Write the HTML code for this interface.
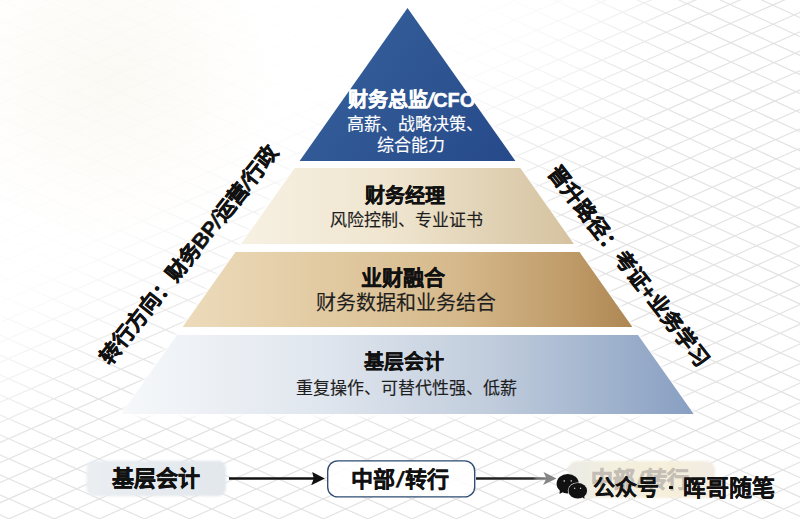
<!DOCTYPE html>
<html lang="zh-CN">
<head>
<meta charset="utf-8">
<style>
html,body{margin:0;padding:0;}
body{width:800px;height:519px;overflow:hidden;position:relative;background:#fff;font-family:"Liberation Sans",sans-serif;}
svg.bg{position:absolute;left:0;top:0;}
.t{position:absolute;white-space:nowrap;text-align:center;line-height:1;}
.sl{display:inline-block;transform:skewX(-13deg);}
</style>
</head>
<body>
<svg class="bg" width="800" height="519" viewBox="0 0 800 519">
<defs>
<linearGradient id="g1" x1="320" y1="20" x2="515" y2="161" gradientUnits="userSpaceOnUse">
<stop offset="0" stop-color="#35609c"/>
<stop offset="0.5" stop-color="#2e5592"/>
<stop offset="1" stop-color="#26498a"/>
</linearGradient>
<linearGradient id="g2" x1="241" y1="0" x2="574" y2="0" gradientUnits="userSpaceOnUse">
<stop offset="0" stop-color="#f7f1e3"/>
<stop offset="0.45" stop-color="#efe5cf"/>
<stop offset="1" stop-color="#d5c29f"/>
</linearGradient>
<linearGradient id="g3" x1="182" y1="0" x2="633" y2="0" gradientUnits="userSpaceOnUse">
<stop offset="0" stop-color="#ecdbbb"/>
<stop offset="0.3" stop-color="#e2cba3"/>
<stop offset="0.6" stop-color="#d6ba8d"/>
<stop offset="0.85" stop-color="#c09c6a"/>
<stop offset="1" stop-color="#ad8753"/>
</linearGradient>
<linearGradient id="g4" x1="121" y1="0" x2="694" y2="0" gradientUnits="userSpaceOnUse">
<stop offset="0" stop-color="#f6f8fa"/>
<stop offset="0.35" stop-color="#e0e6ee"/>
<stop offset="0.65" stop-color="#c0ccdc"/>
<stop offset="1" stop-color="#889fc2"/>
</linearGradient>
<linearGradient id="mg" x1="138" y1="208" x2="215" y2="323" gradientUnits="userSpaceOnUse">
<stop offset="0" stop-color="#141414"/>
<stop offset="0.5" stop-color="#777"/>
<stop offset="1" stop-color="#fff"/>
</linearGradient>
<radialGradient id="rg" cx="430" cy="0" r="270" gradientUnits="userSpaceOnUse">
<stop offset="0" stop-color="#000" stop-opacity="0.9"/>
<stop offset="0.6" stop-color="#000" stop-opacity="0.45"/>
<stop offset="1" stop-color="#000" stop-opacity="0"/>
</radialGradient>
<mask id="gm" maskUnits="userSpaceOnUse" x="0" y="0" width="800" height="519"><rect width="800" height="519" fill="url(#mg)"/><rect width="800" height="519" fill="url(#rg)"/></mask>
<radialGradient id="warm" cx="110" cy="80" r="160" gradientUnits="userSpaceOnUse">
<stop offset="0" stop-color="#f8f3e6" stop-opacity="0.45"/>
<stop offset="1" stop-color="#f8f2e2" stop-opacity="0"/>
</radialGradient>
<linearGradient id="b1" x1="0" y1="0" x2="1" y2="0">
<stop offset="0" stop-color="#eaeef2"/>
<stop offset="1" stop-color="#e2e7ec"/>
</linearGradient>
<linearGradient id="b3" x1="0" y1="0" x2="1" y2="0">
<stop offset="0" stop-color="#ecebe5"/>
<stop offset="0.3" stop-color="#f3f0df"/>
<stop offset="0.7" stop-color="#f5efda"/>
<stop offset="1" stop-color="#f2ebe4"/>
</linearGradient>
<linearGradient id="ar2" x1="476" y1="0" x2="547" y2="0" gradientUnits="userSpaceOnUse">
<stop offset="0" stop-color="#1c1c1c"/>
<stop offset="0.8" stop-color="#2a2a2a"/>
<stop offset="0.86" stop-color="#6a6a6a"/>
<stop offset="1" stop-color="#808080"/>
</linearGradient>
<filter id="halo" x="-5%" y="-5%" width="110%" height="110%"><feGaussianBlur stdDeviation="2.5"/></filter>
<filter id="soft" x="-10%" y="-30%" width="120%" height="160%"><feGaussianBlur stdDeviation="0.8"/></filter>
</defs>
<rect width="800" height="519" fill="url(#warm)"/>
<path mask="url(#gm)" stroke="#e3e3e3" stroke-width="1.2" fill="none" d="M-38.2 -37.4L-15.8 -46.9M-38.1 -17.8L29.0 -46.1M-38.1 1.8L73.7 -45.3M-38.0 21.5L118.2 -44.5M-37.9 41.2L162.6 -43.8M-37.9 60.9L206.9 -43.0M-37.8 80.6L251.1 -42.2M-37.7 100.3L295.1 -41.5M-37.7 120.1L339.1 -40.7M-37.6 139.9L404.6 -49.3M-37.6 159.6L448.2 -48.5M-37.5 179.4L491.7 -47.7M-37.4 199.3L535.1 -47.0M-37.4 219.1L578.4 -46.2M-37.3 239.0L621.6 -45.4M-37.2 258.8L664.6 -44.7M-37.2 278.7L707.6 -43.9M-37.1 298.7L750.4 -43.2M-37.1 318.6L793.1 -42.4M-37.0 338.5L835.7 -41.7M-36.9 358.5L836.1 -22.6M-36.9 378.5L836.5 -3.5M-36.8 398.5L837.0 15.7M-36.7 418.5L837.4 34.8M-36.7 438.6L837.9 54.0M-36.6 458.6L838.3 73.1M-36.5 478.7L838.8 92.3M-36.5 498.8L839.2 111.5M-36.4 518.9L839.6 130.8M-36.4 539.0L840.1 150.0M-36.3 559.2L840.5 169.3M-13.5 569.2L841.0 188.6M31.9 569.2L841.4 207.9M77.2 569.1L841.9 227.2M122.3 569.0L842.3 246.5M167.4 568.9L842.8 265.8M212.3 568.9L843.2 285.2M257.0 568.8L843.7 304.6M301.7 568.7L844.1 324.0M346.2 568.7L844.6 343.4M390.7 568.6L845.0 362.8M435.0 568.5L845.5 382.3M479.1 568.5L845.9 401.7M523.2 568.4L846.4 421.2M567.1 568.3L846.8 440.7M610.9 568.3L847.3 460.3M654.6 568.2L847.7 479.8M698.2 568.1L848.2 499.3M741.6 568.1L848.6 518.9M785.0 568.0L849.1 538.5M828.2 567.9L849.5 558.1M-36.3 559.2L-13.5 569.2M-36.4 539.0L31.9 569.2M-36.4 518.9L77.2 569.1M-36.5 498.8L122.3 569.0M-36.5 478.7L167.4 568.9M-36.6 458.6L212.3 568.9M-36.7 438.6L257.0 568.8M-36.7 418.5L301.7 568.7M-36.8 398.5L346.2 568.7M-36.9 378.5L390.7 568.6M-36.9 358.5L435.0 568.5M-37.0 338.5L479.1 568.5M-37.1 318.6L523.2 568.4M-37.1 298.7L567.1 568.3M-37.2 278.7L610.9 568.3M-37.2 258.8L654.6 568.2M-37.3 239.0L698.2 568.1M-37.4 219.1L741.6 568.1M-37.4 199.3L785.0 568.0M-37.5 179.4L828.2 567.9M-37.6 159.6L849.5 558.1M-37.6 139.9L849.1 538.5M-37.7 120.1L848.6 518.9M-37.7 100.3L848.2 499.3M-37.8 80.6L847.7 479.8M-37.9 60.9L847.3 460.3M-37.9 41.2L846.8 440.7M-38.0 21.5L846.4 421.2M-38.1 1.8L845.9 401.7M-38.1 -17.8L845.5 382.3M-38.2 -37.4L845.0 362.8M-15.8 -46.9L844.6 343.4M29.0 -46.1L844.1 324.0M73.7 -45.3L843.7 304.6M118.2 -44.5L843.2 285.2M162.6 -43.8L842.8 265.8M206.9 -43.0L842.3 246.5M251.1 -42.2L841.9 227.2M295.1 -41.5L841.4 207.9M339.1 -40.7L841.0 188.6M382.9 -40.0L840.5 169.3M404.6 -49.3L840.1 150.0M448.2 -48.5L839.6 130.8M491.7 -47.7L839.2 111.5M535.1 -47.0L838.8 92.3M578.4 -46.2L838.3 73.1M621.6 -45.4L837.9 54.0M664.6 -44.7L837.4 34.8M707.6 -43.9L837.0 15.7M750.4 -43.2L836.5 -3.5M793.1 -42.4L836.1 -22.6"/>
<polygon points="407.5,4 698,418 117,418" fill="#fff" filter="url(#halo)"/>
<polygon points="407.5,8 515.4,161 299.6,161" fill="url(#g1)"/>
<polygon points="294.7,168 520.3,168 573.9,244 241.1,244" fill="url(#g2)"/>
<polygon points="235.5,252 579.5,252 632.4,327 182.6,327" fill="url(#g3)"/>
<polygon points="177,335 638,335 693.7,414 121.3,414" fill="url(#g4)"/>
<!-- bottom row -->
<rect x="86.5" y="460.7" width="139.5" height="35.5" rx="8" fill="url(#b1)" filter="url(#soft)"/>
<line x1="229" y1="478.5" x2="315" y2="478.5" stroke="#111" stroke-width="2.6"/>
<polygon points="324.8,478.5 312.2,472 313.8,478.5 311.2,485.2" fill="#111"/>
<rect x="327.7" y="460.9" width="147" height="36" rx="10" fill="#fff" fill-opacity="0.85" stroke="#2f4b73" stroke-width="1.35"/>
<line x1="476" y1="478.5" x2="547" y2="478.5" stroke="url(#ar2)" stroke-width="2.6"/>
<polygon points="556.5,478.5 543.5,471.9 546.5,478.5 543,485" fill="#858585"/>
<rect x="568" y="461" width="147" height="37" rx="9" fill="url(#b3)" filter="url(#soft)"/>
<!-- wechat icon -->
<g>
<ellipse cx="567.7" cy="483.7" rx="11.1" ry="9.7" fill="#111"/>
<path d="M560 489 L559.5 494 L565 491 Z" fill="#111"/>
<ellipse cx="577.75" cy="490.8" rx="10" ry="8.4" fill="#f4f1ea"/>
<ellipse cx="577.75" cy="490.8" rx="9.35" ry="7.8" fill="#111"/>
<path d="M581 496 L584.5 499 L584 494 Z" fill="#111"/>
<rect x="563.6" y="480" width="1.3" height="1.8" rx="0.6" fill="#ccc"/>
<rect x="570.6" y="480" width="1.3" height="1.8" rx="0.6" fill="#ccc"/>
<rect x="574" y="487.6" width="1.3" height="1.5" rx="0.6" fill="#ccc"/>
<rect x="579.9" y="487.6" width="1.3" height="1.5" rx="0.6" fill="#ccc"/>
</g>
</svg>

<div class="t" style="left:311.50px;top:90.00px;width:200px;font-size:20px;color:#fff;font-weight:700;-webkit-text-stroke:0.4px #fff;">财务总监<span class="sl">/</span>CFO</div>
<div class="t" style="left:314.60px;top:115.90px;width:200px;font-size:17px;color:#fff;-webkit-text-stroke:0.15px #fff;">高薪、战略决策、</div>
<div class="t" style="left:310.50px;top:137.00px;width:200px;font-size:17px;color:#fff;-webkit-text-stroke:0.15px #fff;">综合能力</div>
<div class="t" style="left:305.00px;top:186.40px;width:200px;font-size:20px;color:#111;font-weight:700;-webkit-text-stroke:0.35px #111;">财务经理</div>
<div class="t" style="left:306.50px;top:212.00px;width:200px;font-size:17px;color:#1e1e1e;-webkit-text-stroke:0.15px #1e1e1e;">风险控制、专业证书</div>
<div class="t" style="left:303.48px;top:266.60px;width:200px;font-size:21px;color:#111;font-weight:700;-webkit-text-stroke:0.35px #111;">业财融合</div>
<div class="t" style="left:305.73px;top:293.27px;width:200px;font-size:20px;color:#1e1e1e;-webkit-text-stroke:0.15px #1e1e1e;">财务数据和业务结合</div>
<div class="t" style="left:303.70px;top:352.32px;width:200px;font-size:20px;color:#111;font-weight:700;-webkit-text-stroke:0.35px #111;">基层会计</div>
<div class="t" style="left:256.06px;top:379.52px;width:300px;font-size:17px;color:#1e1e1e;-webkit-text-stroke:0.15px #1e1e1e;">重复操作、可替代性强、低薪</div>
<div class="t" style="left:39.20px;top:243.90px;width:300px;font-size:21px;color:#111;font-weight:700;-webkit-text-stroke:0.5px #111;transform:rotate(-51.5deg);">转行方向：财务BP<span class="sl">/</span>运营<span class="sl">/</span>行政</div>
<div class="t" style="left:478.50px;top:256.30px;width:300px;font-size:21px;color:#111;font-weight:700;-webkit-text-stroke:0.5px #111;letter-spacing:0.4px;transform:rotate(52deg);">晋升路径：考证+业务学习</div>
<div class="t" style="left:86.20px;top:468.45px;width:139px;font-size:22px;color:#111;font-weight:700;-webkit-text-stroke:0.45px #111;">基层会计</div>
<div class="t" style="left:325.60px;top:468.80px;width:148px;font-size:22px;color:#111;font-weight:700;-webkit-text-stroke:0.3px #111;">中部<span class="sl" style="margin:0 2px">/</span>转行</div>
<div class="t" style="left:566.00px;top:469.00px;width:148px;font-size:22px;color:#c4beb6;font-weight:700;-webkit-text-stroke:0.6px #c4beb6;">中部<span class="sl" style="margin:0 2px">/</span>转行</div>
<div class="t" style="left:592.50px;top:476.60px;font-size:22px;color:#111;font-weight:700;-webkit-text-stroke:0.1px #111;">公众号</div>
<div class="t" style="left:683.47px;top:476.82px;font-size:23px;color:#111;font-weight:700;-webkit-text-stroke:0.1px #111;">晖哥随笔</div>
<div style="position:absolute;left:669.3px;top:485.8px;width:3.4px;height:3.4px;border-radius:0.6px;background:#111;"></div>
</body>
</html>
